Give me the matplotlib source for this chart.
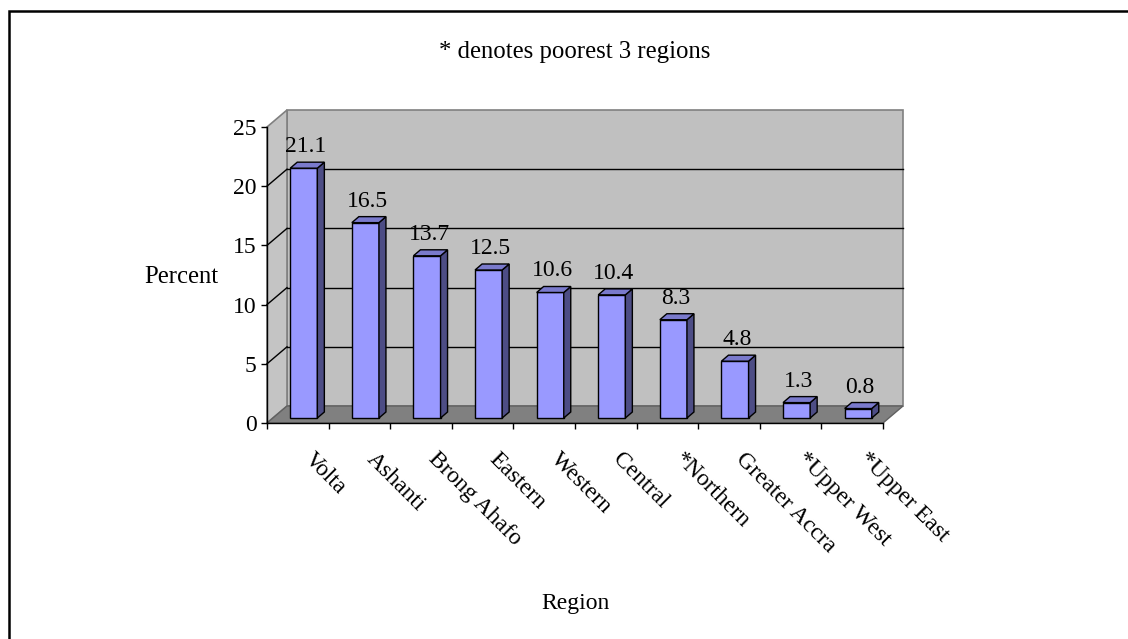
import matplotlib
matplotlib.use("Agg")
import matplotlib.pyplot as plt
from matplotlib.patches import Polygon, Rectangle

# share of households by region (percent)
regions = ["Volta", "Ashanti", "Brong Ahafo", "Eastern", "Western", "Central",
           "*Northern", "Greater Accra", "*Upper West", "*Upper East"]
percent = [21.1, 16.5, 13.7, 12.5, 10.6, 10.4, 8.3, 4.8, 1.3, 0.8]
yticks = [0, 5, 10, 15, 20, 25]

# 3d look, offsets in pixels (right, up)
WALL = (20, 17)
BAR_FRONT = (6, 5)
BAR_BACK = (13, 11)
BAR_W = 0.44

FS = 17
plt.rcParams['font.family'] = ['Liberation Serif', 'DejaVu Serif']


def main():
	fig = plt.figure(figsize=(11.28, 6.39), dpi=100)
	W, H = 1128.0, 639.0
	ax = fig.add_axes([267 / W, (639 - 423) / H, 616 / W, 296 / H])
	ncat = len(regions)
	ymax = yticks[-1]
	ax.set_xlim(0, ncat)
	ax.set_ylim(0, ymax)
	ax.patch.set_visible(False)

	# pixels -> data units
	ux = 616.0 / ncat
	uy = 296.0 / ymax

	def d(off):
		return off[0] / ux, off[1] / uy

	wx, wy = d(WALL)
	# back wall, side wall, floor
	ax.add_patch(Rectangle((wx, wy), ncat, ymax, facecolor="#C0C0C0",
		edgecolor="#808080", lw=1.2, zorder=0.5, clip_on=False))
	ax.add_patch(Polygon([(0, 0), (0, ymax), (wx, ymax + wy), (wx, wy)],
		closed=True, facecolor="#C4C4C4", edgecolor="#808080", lw=1.2,
		zorder=0.6, clip_on=False))
	ax.add_patch(Polygon([(0, 0), (ncat, 0), (ncat + wx, wy), (wx, wy)],
		closed=True, facecolor="#808080", edgecolor="#606060", lw=1,
		zorder=0.7, clip_on=False))
	# gridlines on both walls
	for t in yticks[1:-1]:
		ax.plot([wx, ncat + wx], [t + wy, t + wy], color="black", lw=1,
			zorder=0.8, clip_on=False)
		ax.plot([0, wx], [t, t + wy], color="black", lw=1, zorder=0.8,
			clip_on=False)

	fx, fy = d(BAR_FRONT)
	bx, by = d(BAR_BACK)
	for i, v in enumerate(percent):
		x0 = i + (1 - BAR_W) / 2
		x1 = x0 + BAR_W
		kw = dict(closed=True, edgecolor="black", lw=1, zorder=1, clip_on=False)
		ax.add_patch(Polygon([(x0 + fx, fy), (x1 + fx, fy), (x1 + fx, v + fy),
			(x0 + fx, v + fy)], facecolor="#9999FF", **kw))
		ax.add_patch(Polygon([(x1 + fx, fy), (x1 + bx, by), (x1 + bx, v + by),
			(x1 + fx, v + fy)], facecolor="#4D4D85", **kw))
		ax.add_patch(Polygon([(x0 + fx, v + fy), (x1 + fx, v + fy),
			(x1 + bx, v + by), (x0 + bx, v + by)], facecolor="#7A7ACC", **kw))
		lx, ly = d((8, 21))
		ax.text(i + 0.5 + lx, v + ly, "%.1f" % v, ha="center", va="baseline",
			fontsize=FS)
		cx, cy = d((10, -33))
		ax.text(i + 0.5 + cx, cy, regions[i], rotation=-45,
			rotation_mode="anchor", ha="left", va="center", fontsize=FS,
			clip_on=False)

	for s in ("top", "right"):
		ax.spines[s].set_visible(False)
	ax.spines["left"].set_linewidth(1)
	ax.spines["bottom"].set_linewidth(1)
	ax.set_yticks(yticks)
	ax.set_xticks(range(ncat + 1))
	ax.set_xticklabels([])
	ax.tick_params(axis="both", direction="out", length=4.5, width=1,
		labelsize=FS, pad=3)

	fig.text(575 / W, 1 - 52 / H, "* denotes poorest 3 regions", ha="center",
		va="center", fontsize=17.8)
	fig.text(181 / W, 1 - 277 / H, "Percent", ha="center", va="center",
		fontsize=17.8)
	fig.text(575 / W, 1 - 603 / H, "Region", ha="center", va="center",
		fontsize=FS)

	# outer frame
	fig.add_artist(Rectangle((9 / W, -0.1), 1.2, (639 - 11) / H + 0.1,
		transform=fig.transFigure, fill=False, edgecolor="black", lw=1.8))

	plt.savefig("out.png", dpi=100)


if __name__ == '__main__':
	main()
